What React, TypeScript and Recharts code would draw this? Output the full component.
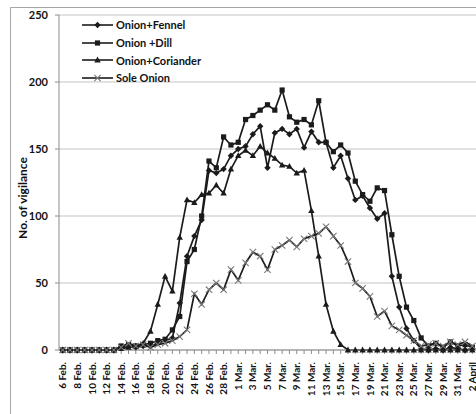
import React from "react"
import { LineChart, Line, XAxis, YAxis, CartesianGrid } from "recharts"

const dates = [
  "6 Feb.", "7 Feb.", "8 Feb.", "9 Feb.", "10 Feb.", "11 Feb.", "12 Feb.", "13 Feb.",
  "14 Feb.", "15 Feb.", "16 Feb.", "17 Feb.", "18 Feb.", "19 Feb.", "20 Feb.", "21 Feb.",
  "22 Feb.", "23 Feb.", "24 Feb.", "25 Feb.", "26 Feb.", "27 Feb.", "28 Feb.", "29 Feb.",
  "1 Mar.", "2 Mar.", "3 Mar.", "4 Mar.", "5 Mar.", "6 Mar.", "7 Mar.", "8 Mar.",
  "9 Mar.", "10 Mar.", "11 Mar.", "12 Mar.", "13 Mar.", "14 Mar.", "15 Mar.", "16 Mar.",
  "17 Mar.", "18 Mar.", "19 Mar.", "20 Mar.", "21 Mar.", "22 Mar.", "23 Mar.", "24 Mar.",
  "25 Mar.", "26 Mar.", "27 Mar.", "28 Mar.", "29 Mar.", "30 Mar.", "31 Mar.", "1 April",
  "2 April",
]

const fennel = [
  0, 0, 0, 0, 0, 0, 0, 0, 2, 3, 2, 3, 3, 5, 7, 9,
  35, 70, 85, 97, 134, 132, 135, 145, 150, 152, 161, 167, 136, 162, 165, 161,
  165, 151, 163, 155, 155, 136, 145, 128, 112, 115, 106, 98, 102, 55, 32, 16,
  7, 1, 0, 1, 0, 2, 1, 0, 1,
]

const dill = [
  0, 0, 0, 0, 0, 0, 0, 0, 3, 4, 3, 4, 5, 7, 8, 15,
  25, 66, 75, 100, 141, 136, 159, 153, 155, 172, 175, 179, 183, 179, 194, 174,
  170, 172, 168, 186, 155, 148, 153, 147, 126, 116, 111, 121, 119, 86, 55, 32,
  22, 9, 3, 5, 2, 6, 3, 4, 2,
]

const coriander = [
  0, 0, 0, 0, 0, 0, 0, 0, 1, 2, 3, 5, 14, 34, 55, 44,
  84, 112, 110, 116, 117, 123, 117, 135, 145, 149, 145, 152, 147, 143, 138, 137,
  132, 134, 104, 70, 34, 14, 4, 0, 0, 0, 0, 0, 0, 0, 0, 0,
  0, 0, 0, 0, 0, 0, 0, 0, 0,
]

const soleOnion = [
  0, 0, 0, 0, 0, 0, 0, 0, 2, 5, 3, 4, 2, 4, 5, 7,
  10, 15, 42, 34, 45, 50, 45, 60, 52, 65, 73, 70, 60, 75, 78, 82,
  77, 83, 85, 87, 92, 85, 78, 66, 50, 46, 40, 25, 29, 18, 15, 11,
  7, 3, 4, 5, 3, 6, 4, 6, 3,
]

const yTicks = [0, 50, 100, 150, 200, 250]

const data = dates.map((date, i) => ({
  date,
  fennel: fennel[i],
  dill: dill[i],
  coriander: coriander[i],
  sole: soleOnion[i],
}))

const ink = "#1b1b1b"
const grid = "#c4c4c4"
const axisGray = "#8c8c8c"
const font = "Lato, 'Open Sans', sans-serif"

type Shape = "diamond" | "square" | "triangle" | "cross"

const series: { key: string; name: string; shape: Shape }[] = [
  { key: "fennel", name: "Onion+Fennel", shape: "diamond" },
  { key: "dill", name: "Onion +Dill", shape: "square" },
  { key: "coriander", name: "Onion+Coriander", shape: "triangle" },
  { key: "sole", name: "Sole Onion", shape: "cross" },
]

function marker(shape: Shape, cx: number, cy: number, key?: any) {
  if (shape === "diamond") {
    const r = 3.2
    return <path key={key} d={`M${cx},${cy - r}L${cx + r},${cy}L${cx},${cy + r}L${cx - r},${cy}Z`} fill={ink} />
  }
  if (shape === "square") {
    return <rect key={key} x={cx - 2.6} y={cy - 2.6} width={5.2} height={5.2} fill={ink} />
  }
  if (shape === "triangle") {
    return <path key={key} d={`M${cx},${cy - 3.4}L${cx + 3.2},${cy + 2.4}L${cx - 3.2},${cy + 2.4}Z`} fill={ink} />
  }
  const r = 3.2
  return (
    <path
      key={key}
      d={`M${cx - r},${cy - r}L${cx + r},${cy + r}M${cx + r},${cy - r}L${cx - r},${cy + r}`}
      stroke="#7a7a7a"
      strokeWidth={1.1}
      fill="none"
    />
  )
}

function dotFor(shape: Shape) {
  return (props: any) => {
    const { cx, cy, index } = props
    if (cx == null || cy == null) return <g key={index} />
    return marker(shape, cx, cy, index)
  }
}

// only every second date gets a label, like the original axis
function DateTick(props: any) {
  const { x, y, payload } = props
  const i = props.index ?? payload.index
  if (i % 2 !== 0) return <g />
  return (
    <text
      x={x}
      y={y}
      transform={`rotate(-90, ${x}, ${y})`}
      textAnchor="end"
      dy="0.36em"
      fontSize={10}
      fontWeight={700}
      fontFamily={font}
      fill="#111"
    >
      {payload.value}
    </text>
  )
}

function LegendBox() {
  return (
    <div
      style={{
        position: "absolute",
        left: 82,
        top: 16,
        fontFamily: font,
        fontWeight: 700,
        fontSize: 11,
        color: "#111",
      }}
    >
      {series.map((s) => (
        <div key={s.key} style={{ display: "flex", alignItems: "center", height: 17.7 }}>
          <svg width={32} height={10} style={{ marginRight: 2 }}>
            <line x1={0} y1={5} x2={31} y2={5} stroke={ink} strokeWidth={1.6} />
            {marker(s.shape, 15.5, 5)}
          </svg>
          <span>{s.name}</span>
        </div>
      ))}
    </div>
  )
}

export default function App() {
  return (
    <div
      style={{
        position: "absolute",
        left: 0,
        top: 0,
        width: 476,
        height: 414,
        overflow: "hidden",
        background: "#fff",
      }}
    >
      <div
        style={{
          position: "absolute",
          left: 10,
          top: 7,
          width: 900,
          height: 900,
          border: "1px solid #a6a6a6",
        }}
      />
      <div
        style={{
          position: "absolute",
          left: 22,
          top: 198,
          transform: "translate(-50%, -50%) rotate(-90deg)",
          whiteSpace: "nowrap",
          fontFamily: font,
          fontWeight: 700,
          fontSize: 12,
          color: "#111",
        }}
      >
        No. of vigilance
      </div>
      <LineChart
        width={476}
        height={414}
        data={data}
        margin={{ top: 15, right: 0, bottom: 0, left: 0 }}
        style={{ position: "absolute", left: 0, top: 0 }}
      >
        <CartesianGrid vertical={false} stroke={grid} strokeWidth={1.2} />
        <XAxis
          dataKey="date"
          interval={0}
          height={64}
          padding={{ left: 3.66, right: 3.66 }}
          tickSize={4}
          tickMargin={8}
          tick={DateTick}
          axisLine={{ stroke: axisGray }}
          tickLine={{ stroke: axisGray }}
        />
        <YAxis
          domain={[0, 250]}
          ticks={yTicks}
          width={59}
          tickSize={4}
          tickMargin={7}
          axisLine={{ stroke: axisGray }}
          tickLine={{ stroke: axisGray }}
          tick={{ fontSize: 11, fontWeight: 700, fill: "#111", fontFamily: font }}
        />
        {series.map((s) => (
          <Line
            key={s.key}
            type="linear"
            dataKey={s.key}
            name={s.name}
            stroke={ink}
            strokeWidth={1.7}
            dot={dotFor(s.shape)}
            activeDot={false}
            isAnimationActive={false}
          />
        ))}
      </LineChart>
      <LegendBox />
    </div>
  )
}
